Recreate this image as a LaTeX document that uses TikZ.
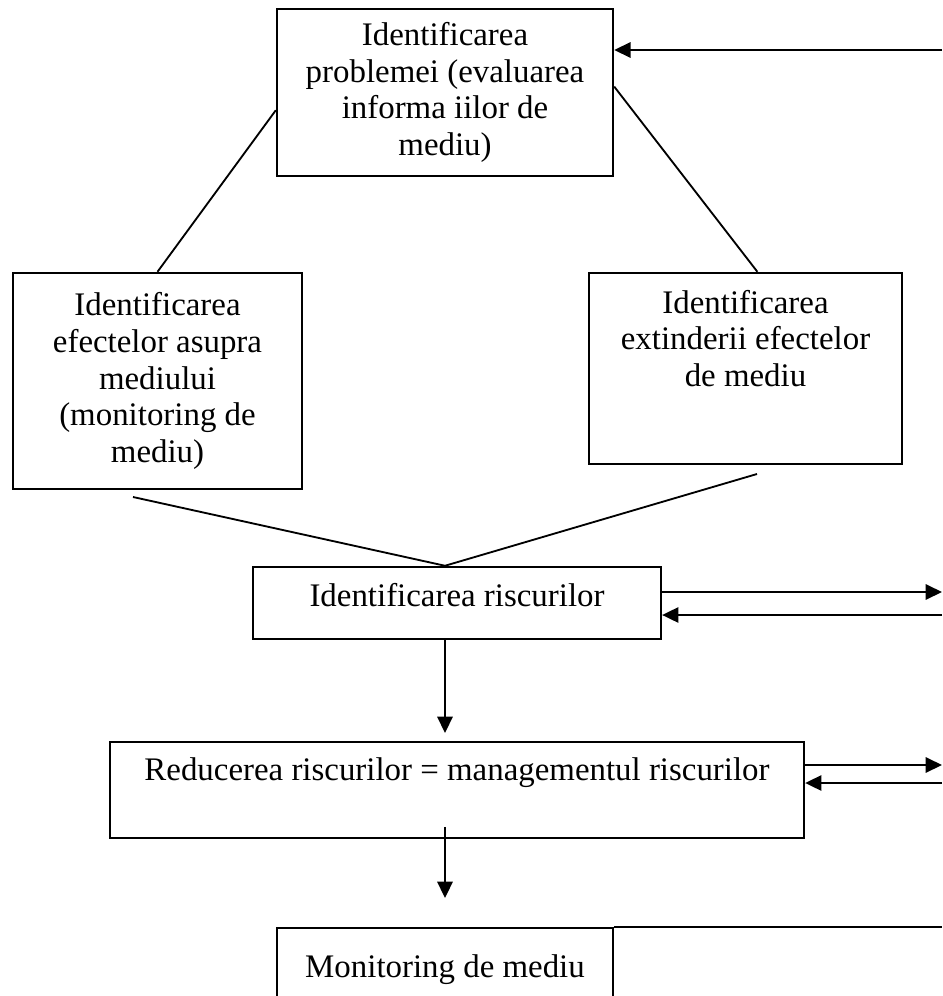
\documentclass[tikz,border=0pt]{standalone}
\usepackage{fontspec}
\setmainfont{Liberation Serif}
\usetikzlibrary{arrows.meta}

\tikzset{
  box/.style={draw, line width=0.9pt, align=center, inner xsep=0pt, inner ysep=0pt,
    font=\fontsize{12.5}{14}\selectfont},
  txt/.style={align=center, inner sep=0pt, font=\fontsize{12.5}{14}\selectfont},
  link/.style={line width=0.7pt},
  edge/.style={line width=0.9pt},
  arr/.style={line width=0.8pt, -{Triangle[length=6.2pt,width=5.8pt]}}
}

\begin{document}
\begin{tikzpicture}[x=0.38pt,y=-0.38pt]
   \useasboundingbox (0,0) rectangle (942,996);
   \node[box, minimum width=127.7pt, minimum height=63.5pt] (problem) at (445,92.5)
     {Identificarea\\problemei (evaluarea\\informa iilor de\\mediu)};
   \node[box, minimum width=109.8pt, minimum height=82.1pt] (effects) at (157.5,381)
     {Identificarea\\efectelor asupra\\mediului\\(monitoring de\\mediu)};
   \node[box, minimum width=118.9pt, minimum height=72.6pt] (extent) at (745.5,368.5) {};
   \node[txt, anchor=north] (extenttext) at ([yshift=-6.7pt]extent.north)
     {Identificarea\\extinderii efectelor\\de mediu};
   \node[box, minimum width=155pt, text height=15.2pt, text depth=12.2pt] (risk) at (457,603)
     {Identificarea riscurilor};
   \node[box, minimum width=263.7pt, text height=14.4pt, text depth=22pt] (reduce) at (457,790)
     {Reducerea riscurilor = managementul riscurilor};
   \node[box, minimum width=127.7pt, text height=18.6pt, text depth=16.7pt, anchor=north] (monitor) at (445,927)
     {Monitoring de mediu};

   \coordinate (feedback) at (942,50);
   \coordinate (riskout) at (942,592);
   \coordinate (riskin) at (942,615);
   \coordinate (reduceout) at (942,765);
   \coordinate (reducein) at (942,783);
   \coordinate (monitorend) at (942,927);
   \coordinate (effectsfoot) at (133,497);
   \coordinate (extentfoot) at (757,474);

   \draw[link] (problem.186) -- (effects.north);
   \draw[link] (problem.2) -- (extent.83);
   \draw[link] (effectsfoot) -- (risk.north -| problem.south) -- (extentfoot);

   \draw[arr] (feedback) -- (problem.east |- feedback);
   \draw[arr] (risk.east |- riskout) -- (riskout);
   \draw[arr] (riskin) -- (risk.east |- riskin);
   \draw[arr] (reduce.east |- reduceout) -- (reduceout);
   \draw[arr] (reducein) -- (reduce.east |- reducein);
   \draw[arr, shorten >=3pt] (risk.south -| problem.south) -- (reduce.north -| problem.south);
   \draw[arr, shorten <=-4.6pt, shorten >=11pt] (reduce.south -| problem.south) -- (monitor.north -| problem.south);
   \draw[edge] (monitor.north east) -- (monitorend);
\end{tikzpicture}
\end{document}
